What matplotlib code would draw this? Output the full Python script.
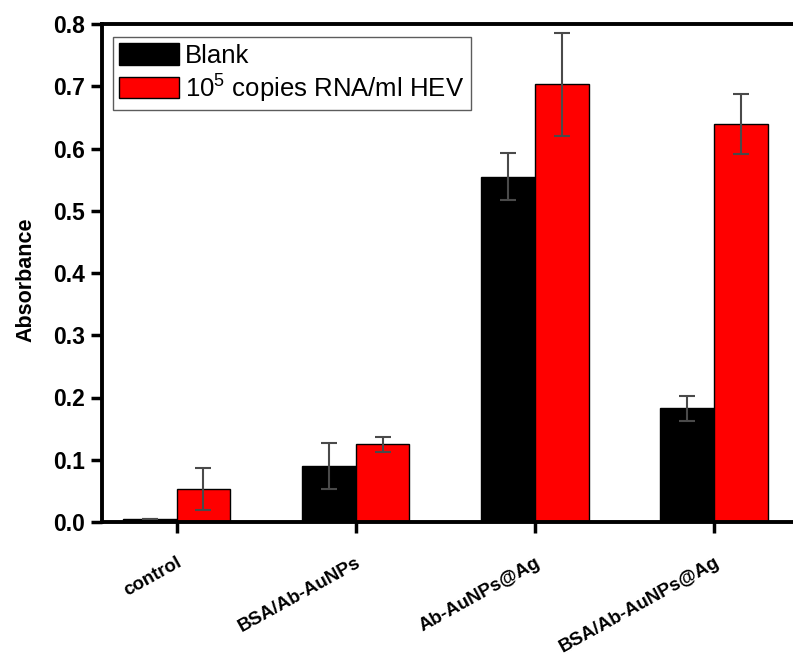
import matplotlib
matplotlib.use("Agg")
import matplotlib.pyplot as plt
import matplotlib.transforms as mtransforms
import numpy as np

plt.rcParams['font.family'] = ['Liberation Sans', 'DejaVu Sans']
plt.rcParams['mathtext.fontset'] = 'custom'
plt.rcParams['mathtext.rm'] = 'Liberation Sans'

categories = ["control", "BSA/Ab-AuNPs", "Ab-AuNPs@Ag", "BSA/Ab-AuNPs@Ag"]
blank = [0.005, 0.090, 0.555, 0.183]
blank_err = [0.0, 0.037, 0.038, 0.020]
hev = [0.053, 0.125, 0.703, 0.639]
hev_err = [0.034, 0.012, 0.083, 0.048]
yticks = [0.0, 0.1, 0.2, 0.3, 0.4, 0.5, 0.6, 0.7, 0.8]

fig = plt.figure(figsize=(7.93, 6.59), dpi=100)
ax = fig.add_axes([102/793, (659-522)/659, (793-102)/793, (522-24)/659])

x = np.arange(1, len(categories) + 1)
w = 0.30
ekw = dict(ecolor='#4a4a4a', elinewidth=1.5, capsize=6, capthick=1.5)
ax.bar(x - w/2, blank, w, yerr=blank_err, color='black', edgecolor='black',
       linewidth=1, label='Blank', error_kw=ekw)
ax.bar(x + w/2, hev, w, yerr=hev_err, color='#ff0000', edgecolor='black',
       linewidth=1, label=r'10$^{\mathregular{5}}$ copies RNA/ml HEV', error_kw=ekw)

ax.set_xlim(0.584, 4.441)
ax.set_ylim(0, 0.8)
ax.set_yticks(yticks)
ax.set_yticklabels([f"{v:.1f}" for v in yticks], fontsize=16.5, fontweight='bold')
ax.set_xticks(x)
ax.set_xticklabels(categories, rotation=29, ha='right', rotation_mode='anchor',
                   fontsize=13.5, fontweight='bold')
offset = mtransforms.ScaledTranslation(-3/100, 0, fig.dpi_scale_trans)
for lab in ax.get_xticklabels():
    lab.set_transform(lab.get_transform() + offset)
ax.set_ylabel('Absorbance', fontsize=15.5, fontweight='bold')
ax.yaxis.set_label_coords(-0.095, 0.487)

for s in ax.spines.values():
    s.set_linewidth(2.8)
ax.spines['right'].set_visible(False)
ax.tick_params(axis='both', direction='out', length=8, width=2.5)
ax.tick_params(axis='y', pad=4)
ax.tick_params(axis='x', pad=15)

leg = ax.legend(loc='upper left', bbox_to_anchor=(0.016, 0.974), borderaxespad=0,
                fontsize=18.5, frameon=True, fancybox=False, edgecolor='#333333',
                handlelength=2.3, handleheight=0.9, borderpad=0.25,
                labelspacing=0.12, handletextpad=0.25)
leg.get_frame().set_linewidth(1)

fig.savefig('out.png', dpi=100)
